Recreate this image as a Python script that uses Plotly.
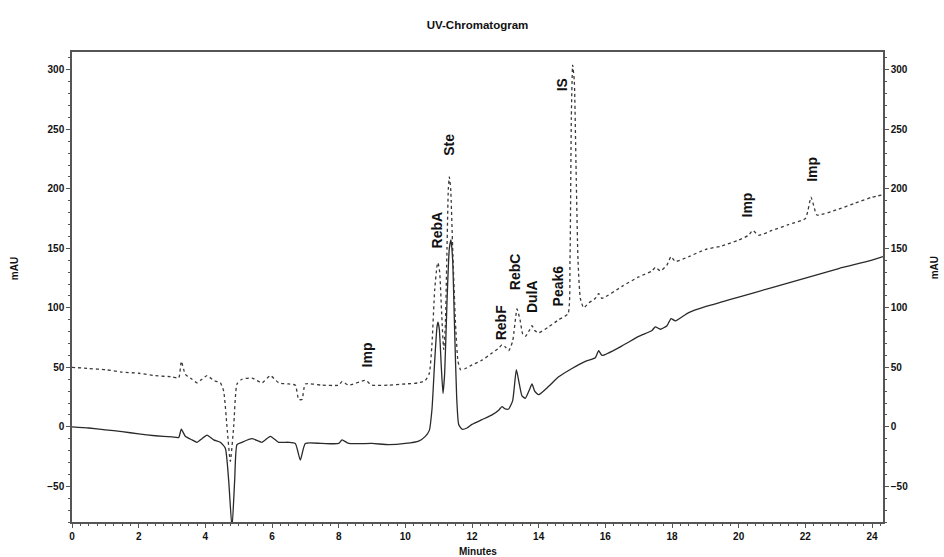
import plotly.graph_objects as go

# ---- data ----
sample_time = [0.0, 0.5, 1.0, 1.5, 2.0, 2.5, 3.0, 3.2, 3.28, 3.4, 3.6, 3.75, 3.9, 4.05, 4.25, 4.45,
               4.6, 4.7, 4.8, 4.88, 4.95, 5.1, 5.4, 5.7, 5.95, 6.2, 6.5, 6.7, 6.85, 7.0, 7.5, 8.0,
               8.1, 8.3, 9.0, 9.5, 10.0, 10.4, 10.6, 10.72, 10.8, 10.88, 10.95, 10.98, 11.02, 11.08,
               11.13, 11.18, 11.25, 11.32, 11.37, 11.42, 11.48, 11.54, 11.6, 11.7, 11.85, 12.0, 12.3,
               12.6, 12.8, 12.9, 13.0, 13.1, 13.22, 13.33, 13.42, 13.5, 13.6, 13.72, 13.8, 13.88,
               14.0, 14.3, 14.6, 15.0, 15.4, 15.7, 15.8, 15.9, 16.5, 17.0, 17.4, 17.5, 17.65, 17.85,
               17.97, 18.1, 18.5, 19.0, 19.5, 20.0, 21.0, 22.0, 23.0, 24.0, 24.33]
sample_mau = [0, -1, -2.5, -4, -6, -7.5, -8.5, -9, -2, -8, -11, -13, -10, -7, -11, -13,
              -18, -45, -85, -45, -15, -13, -10, -13, -8, -13, -13, -14, -28, -14, -14, -14,
              -11, -14, -14, -15, -14, -12, -8, -3, 15, 55, 84, 88, 82, 50,
              28, 45, 105, 150, 157, 140, 80, 25, 2, -2, -1, 2, 6,
              10, 14, 17, 15, 15, 22, 48, 36, 26, 24, 31, 36, 30,
              27, 34, 42, 49, 55, 58, 64, 60, 68, 76, 81, 84, 82, 85,
              91, 89, 96, 101, 105, 109, 117, 125, 133, 140, 143]

standard_time = [0.0, 0.5, 1.0, 1.5, 2.0, 2.5, 3.0, 3.2, 3.28, 3.4, 3.6, 3.75, 3.9, 4.05, 4.25, 4.45,
                 4.55, 4.65, 4.75, 4.85, 4.95, 5.1, 5.4, 5.7, 5.95, 6.2, 6.5, 6.7, 6.8, 6.9, 7.0, 7.5,
                 8.0, 8.1, 8.3, 8.8, 9.0, 9.5, 10.0, 10.4, 10.6, 10.72, 10.8, 10.88, 10.95, 10.98,
                 11.03, 11.09, 11.15, 11.2, 11.25, 11.29, 11.32, 11.36, 11.42, 11.5, 11.58, 11.66,
                 11.8, 12.0, 12.3, 12.6, 12.8, 12.9, 13.0, 13.1, 13.22, 13.35, 13.44, 13.52, 13.6,
                 13.72, 13.8, 13.88, 14.0, 14.3, 14.6, 14.88, 14.94, 14.98, 15.02, 15.07, 15.12,
                 15.18, 15.25, 15.35, 15.5, 15.7, 15.8, 15.9, 16.5, 17.0, 17.4, 17.5, 17.65, 17.85,
                 17.97, 18.1, 18.5, 19.0, 19.5, 20.0, 20.3, 20.42, 20.6, 21.0, 21.5, 22.0, 22.08,
                 22.17, 22.25, 22.35, 23.0, 23.5, 24.0, 24.33]
standard_mau = [50, 49, 48, 46, 45, 43, 42, 41, 55, 44, 40, 37, 40, 43, 39, 37,
                30, 0, -29, 0, 36, 40, 41, 37, 43, 37, 36, 35, 23, 23, 36, 35,
                35, 38, 35, 39, 35, 35, 36, 37, 39, 45, 70, 115, 135, 138,
                130, 95, 65, 85, 150, 200, 210, 200, 150, 90, 55, 48,
                49, 52, 56, 62, 66, 69, 67, 64, 72, 99, 90, 78, 76,
                81, 85, 81, 79, 84, 90, 95, 140, 260, 304, 290, 220,
                140, 108, 100, 104, 108, 112, 108, 118, 126, 131, 134, 131, 136,
                143, 139, 143, 149, 152, 157, 161, 165, 161, 165, 170, 175, 182,
                193, 186, 178, 183, 188, 193, 195]

peak_labels = ["Imp", "RebA", "Ste", "RebF", "RebC", "DulA", "Peak6", "IS", "Imp", "Imp"]
label_time = [8.85, 10.95, 11.31, 12.87, 13.29, 13.8, 14.58, 14.7, 20.25, 22.2]
label_mau = [60, 165, 237, 87, 130, 109, 118, 287, 186, 216]

title_text = "UV-Chromatogram"
x_title = "Minutes"
y_title = "mAU"

# ---- figure ----
FONT = "Liberation Sans, Arial, sans-serif"
axis_col = "#555555"

fig = go.Figure()
fig.add_trace(go.Scatter(x=sample_time, y=sample_mau, mode="lines",
                         line=dict(color="#2a2a2a", width=1.3, shape="spline", smoothing=0.5),
                         yaxis="y", showlegend=False))
fig.add_trace(go.Scatter(x=standard_time, y=standard_mau, mode="lines",
                         line=dict(color="#3a3a3a", width=1.3, dash="dot", shape="spline", smoothing=0.5),
                         yaxis="y2", showlegend=False))

for txt, t, v in zip(peak_labels, label_time, label_mau):
    fig.add_annotation(x=t, y=v, xref="x", yref="y", text=txt, textangle=-90, showarrow=False,
                       xanchor="center", yanchor="middle",
                       font=dict(family=FONT, size=14, color="#111111", weight="bold"))

fig.add_annotation(x=0.5, y=-0.062, xref="paper", yref="paper", text=x_title, showarrow=False,
                   xanchor="center", yanchor="middle",
                   font=dict(family=FONT, size=10, color="#111111", weight="bold"))
fig.add_annotation(x=-0.0715, y=0.538, xref="paper", yref="paper", text=y_title, showarrow=False,
                   textangle=-90, xanchor="center", yanchor="middle",
                   font=dict(family=FONT, size=10, color="#111111", weight="bold"))
fig.add_annotation(x=1.063, y=0.54, xref="paper", yref="paper", text=y_title, showarrow=False,
                   textangle=-90, xanchor="center", yanchor="middle",
                   font=dict(family=FONT, size=10, color="#111111", weight="bold"))

tickfont = dict(family=FONT, size=10, color="#111111", weight="bold")
yrange = [-80, 315]

fig.update_layout(
    width=944, height=557,
    margin=dict(l=72, r=61, t=52, b=35),
    paper_bgcolor="white", plot_bgcolor="white",
    title=dict(text=title_text, x=0.5, xref="paper", xanchor="center",
               y=1 - 25 / 557, yref="container", yanchor="middle",
               font=dict(family=FONT, size=11.5, color="#111111", weight="bold")),
    xaxis=dict(range=[0, 24.33], dtick=2, tick0=0, showgrid=False, zeroline=False,
               showline=True, linecolor=axis_col, linewidth=1.5, mirror=True,
               ticks="outside", ticklen=4, tickcolor=axis_col, tickfont=tickfont,
               minor=dict(dtick=0.25, ticks="outside", ticklen=2, tickcolor=axis_col)),
    yaxis=dict(range=yrange, dtick=50, tick0=0, showgrid=False, zeroline=False,
               showline=True, linecolor=axis_col, linewidth=1.5,
               ticks="outside", ticklen=4, tickcolor=axis_col, tickfont=tickfont,
               minor=dict(dtick=10, ticks="outside", ticklen=2, tickcolor=axis_col)),
    yaxis2=dict(range=yrange, dtick=50, tick0=0, overlaying="y", side="right",
                showgrid=False, zeroline=False,
                showline=True, linecolor=axis_col, linewidth=1.5,
                ticks="outside", ticklen=4, tickcolor=axis_col, tickfont=tickfont,
                minor=dict(dtick=10, ticks="outside", ticklen=2, tickcolor=axis_col)),
)

fig.write_html("out.html")
